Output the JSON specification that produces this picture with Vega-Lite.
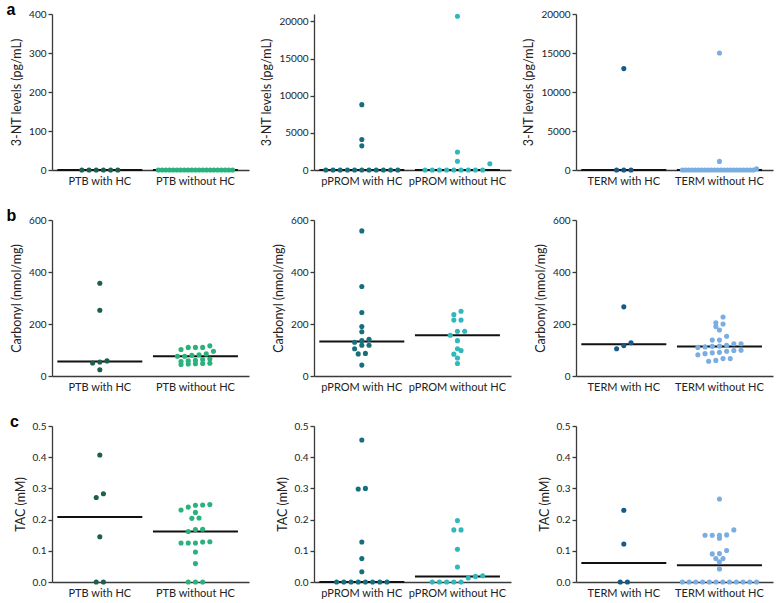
{
"$schema": "https://vega.github.io/schema/vega-lite/v6.json",
"padding": {"left": 6, "top": 2, "right": 2, "bottom": 2},
"datasets": {
"nt": [
{"g":"PTB with HC","v":0},{"g":"PTB with HC","v":0},{"g":"PTB with HC","v":0},{"g":"PTB with HC","v":0},{"g":"PTB with HC","v":0},{"g":"PTB with HC","v":0},
{"g":"PTB without HC","v":0},{"g":"PTB without HC","v":0},{"g":"PTB without HC","v":0},{"g":"PTB without HC","v":0},{"g":"PTB without HC","v":0},{"g":"PTB without HC","v":0},{"g":"PTB without HC","v":0},{"g":"PTB without HC","v":0},{"g":"PTB without HC","v":0},{"g":"PTB without HC","v":0},{"g":"PTB without HC","v":0},{"g":"PTB without HC","v":0},{"g":"PTB without HC","v":0},{"g":"PTB without HC","v":0},{"g":"PTB without HC","v":0},{"g":"PTB without HC","v":0},{"g":"PTB without HC","v":0},{"g":"PTB without HC","v":0},{"g":"PTB without HC","v":0},{"g":"PTB without HC","v":0},{"g":"PTB without HC","v":0},
{"g":"pPROM with HC","v":8800},{"g":"pPROM with HC","v":4100},{"g":"pPROM with HC","v":3250},{"g":"pPROM with HC","v":0},{"g":"pPROM with HC","v":0},{"g":"pPROM with HC","v":0},{"g":"pPROM with HC","v":0},{"g":"pPROM with HC","v":0},{"g":"pPROM with HC","v":0},{"g":"pPROM with HC","v":0},{"g":"pPROM with HC","v":0},{"g":"pPROM with HC","v":0},{"g":"pPROM with HC","v":0},{"g":"pPROM with HC","v":0},
{"g":"pPROM without HC","v":20700},{"g":"pPROM without HC","v":2420},{"g":"pPROM without HC","v":1170},{"g":"pPROM without HC","v":850},{"g":"pPROM without HC","v":0},{"g":"pPROM without HC","v":0},{"g":"pPROM without HC","v":0},{"g":"pPROM without HC","v":0},{"g":"pPROM without HC","v":0},{"g":"pPROM without HC","v":0},{"g":"pPROM without HC","v":0},{"g":"pPROM without HC","v":0},{"g":"pPROM without HC","v":0},
{"g":"TERM with HC","v":13000},{"g":"TERM with HC","v":0},{"g":"TERM with HC","v":0},{"g":"TERM with HC","v":0},
{"g":"TERM without HC","v":15000},{"g":"TERM without HC","v":1100},{"g":"TERM without HC","v":150},{"g":"TERM without HC","v":0},{"g":"TERM without HC","v":0},{"g":"TERM without HC","v":0},{"g":"TERM without HC","v":0},{"g":"TERM without HC","v":0},{"g":"TERM without HC","v":0},{"g":"TERM without HC","v":0},{"g":"TERM without HC","v":0},{"g":"TERM without HC","v":0},{"g":"TERM without HC","v":0},{"g":"TERM without HC","v":0},{"g":"TERM without HC","v":0},{"g":"TERM without HC","v":0},{"g":"TERM without HC","v":0},{"g":"TERM without HC","v":0},{"g":"TERM without HC","v":0},{"g":"TERM without HC","v":0},{"g":"TERM without HC","v":0},{"g":"TERM without HC","v":0},{"g":"TERM without HC","v":0},{"g":"TERM without HC","v":0},{"g":"TERM without HC","v":0},{"g":"TERM without HC","v":0}
],
"carb": [
{"g":"PTB with HC","v":357},{"g":"PTB with HC","v":253},{"g":"PTB with HC","v":58},{"g":"PTB with HC","v":54},{"g":"PTB with HC","v":50},{"g":"PTB with HC","v":24},
{"g":"PTB without HC","v":116},{"g":"PTB without HC","v":110},{"g":"PTB without HC","v":110},{"g":"PTB without HC","v":110},{"g":"PTB without HC","v":102},{"g":"PTB without HC","v":95},{"g":"PTB without HC","v":85},{"g":"PTB without HC","v":82},{"g":"PTB without HC","v":80},{"g":"PTB without HC","v":76},{"g":"PTB without HC","v":76},{"g":"PTB without HC","v":65},{"g":"PTB without HC","v":63},{"g":"PTB without HC","v":60},{"g":"PTB without HC","v":58},{"g":"PTB without HC","v":56},{"g":"PTB without HC","v":49},{"g":"PTB without HC","v":48},{"g":"PTB without HC","v":47},{"g":"PTB without HC","v":46},{"g":"PTB without HC","v":44},
{"g":"pPROM with HC","v":558},{"g":"pPROM with HC","v":344},{"g":"pPROM with HC","v":244},{"g":"pPROM with HC","v":190},{"g":"pPROM with HC","v":170},{"g":"pPROM with HC","v":141},{"g":"pPROM with HC","v":136},{"g":"pPROM with HC","v":130},{"g":"pPROM with HC","v":118},{"g":"pPROM with HC","v":118},{"g":"pPROM with HC","v":105},{"g":"pPROM with HC","v":87},{"g":"pPROM with HC","v":85},{"g":"pPROM with HC","v":42},
{"g":"pPROM without HC","v":249},{"g":"pPROM without HC","v":236},{"g":"pPROM without HC","v":215},{"g":"pPROM without HC","v":215},{"g":"pPROM without HC","v":172},{"g":"pPROM without HC","v":172},{"g":"pPROM without HC","v":157},{"g":"pPROM without HC","v":136},{"g":"pPROM without HC","v":105},{"g":"pPROM without HC","v":98},{"g":"pPROM without HC","v":84},{"g":"pPROM without HC","v":69},{"g":"pPROM without HC","v":48},
{"g":"TERM with HC","v":266},{"g":"TERM with HC","v":128},{"g":"TERM with HC","v":117},{"g":"TERM with HC","v":105},
{"g":"TERM without HC","v":227},{"g":"TERM without HC","v":205},{"g":"TERM without HC","v":200},{"g":"TERM without HC","v":190},{"g":"TERM without HC","v":177},{"g":"TERM without HC","v":153},{"g":"TERM without HC","v":138},{"g":"TERM without HC","v":138},{"g":"TERM without HC","v":124},{"g":"TERM without HC","v":124},{"g":"TERM without HC","v":118},{"g":"TERM without HC","v":115},{"g":"TERM without HC","v":114},{"g":"TERM without HC","v":112},{"g":"TERM without HC","v":110},{"g":"TERM without HC","v":99},{"g":"TERM without HC","v":98},{"g":"TERM without HC","v":95},{"g":"TERM without HC","v":91},{"g":"TERM without HC","v":89},{"g":"TERM without HC","v":86},{"g":"TERM without HC","v":82},{"g":"TERM without HC","v":67},{"g":"TERM without HC","v":67},{"g":"TERM without HC","v":60},{"g":"TERM without HC","v":57}
],
"tac": [
{"g":"PTB with HC","v":0.407},{"g":"PTB with HC","v":0.283},{"g":"PTB with HC","v":0.271},{"g":"PTB with HC","v":0.145},{"g":"PTB with HC","v":0},{"g":"PTB with HC","v":0},
{"g":"PTB without HC","v":0.248},{"g":"PTB without HC","v":0.247},{"g":"PTB without HC","v":0.246},{"g":"PTB without HC","v":0.240},{"g":"PTB without HC","v":0.231},{"g":"PTB without HC","v":0.223},{"g":"PTB without HC","v":0.205},{"g":"PTB without HC","v":0.204},{"g":"PTB without HC","v":0.169},{"g":"PTB without HC","v":0.168},{"g":"PTB without HC","v":0.162},{"g":"PTB without HC","v":0.129},{"g":"PTB without HC","v":0.128},{"g":"PTB without HC","v":0.125},{"g":"PTB without HC","v":0.125},{"g":"PTB without HC","v":0.125},{"g":"PTB without HC","v":0.096},{"g":"PTB without HC","v":0.059},{"g":"PTB without HC","v":0},{"g":"PTB without HC","v":0},{"g":"PTB without HC","v":0},
{"g":"pPROM with HC","v":0.455},{"g":"pPROM with HC","v":0.300},{"g":"pPROM with HC","v":0.298},{"g":"pPROM with HC","v":0.128},{"g":"pPROM with HC","v":0.075},{"g":"pPROM with HC","v":0.033},{"g":"pPROM with HC","v":0},{"g":"pPROM with HC","v":0},{"g":"pPROM with HC","v":0},{"g":"pPROM with HC","v":0},{"g":"pPROM with HC","v":0},{"g":"pPROM with HC","v":0},{"g":"pPROM with HC","v":0},{"g":"pPROM with HC","v":0},
{"g":"pPROM without HC","v":0.197},{"g":"pPROM without HC","v":0.167},{"g":"pPROM without HC","v":0.167},{"g":"pPROM without HC","v":0.105},{"g":"pPROM without HC","v":0.048},{"g":"pPROM without HC","v":0.020},{"g":"pPROM without HC","v":0.018},{"g":"pPROM without HC","v":0.013},{"g":"pPROM without HC","v":0},{"g":"pPROM without HC","v":0},{"g":"pPROM without HC","v":0},{"g":"pPROM without HC","v":0},{"g":"pPROM without HC","v":0},
{"g":"TERM with HC","v":0.230},{"g":"TERM with HC","v":0.122},{"g":"TERM with HC","v":0},{"g":"TERM with HC","v":0},
{"g":"TERM without HC","v":0.266},{"g":"TERM without HC","v":0.167},{"g":"TERM without HC","v":0.151},{"g":"TERM without HC","v":0.150},{"g":"TERM without HC","v":0.150},{"g":"TERM without HC","v":0.150},{"g":"TERM without HC","v":0.140},{"g":"TERM without HC","v":0.101},{"g":"TERM without HC","v":0.091},{"g":"TERM without HC","v":0.090},{"g":"TERM without HC","v":0.075},{"g":"TERM without HC","v":0.075},{"g":"TERM without HC","v":0.065},{"g":"TERM without HC","v":0.042},{"g":"TERM without HC","v":0},{"g":"TERM without HC","v":0},{"g":"TERM without HC","v":0},{"g":"TERM without HC","v":0},{"g":"TERM without HC","v":0},{"g":"TERM without HC","v":0},{"g":"TERM without HC","v":0},{"g":"TERM without HC","v":0},{"g":"TERM without HC","v":0},{"g":"TERM without HC","v":0},{"g":"TERM without HC","v":0},{"g":"TERM without HC","v":0}
]
},
"columns": 3,
"bounds": "flush",
"spacing": {"row": 50, "column": 65},
"resolve": {"scale": {"x": "independent", "y": "independent", "xOffset": "independent"}},
"concat": [
{
"width": 197, "height": 156,
"title": {"text": "a", "anchor": "start", "frame": "bounds", "fontSize": 16, "fontWeight": "bold", "font": "Liberation Sans", "color": "#000", "offset": -9, "dx": -4},
"data": {"name": "nt"},
"transform": [
{"filter": {"field": "g", "oneOf": ["PTB with HC", "PTB without HC"]}},
{"bin": {"step": 20, "anchor": -10, "nice": false}, "field": "v", "as": "vb"},
{"joinaggregate": [{"op": "count", "as": "n"}], "groupby": ["g", "vb"]},
{"window": [{"op": "row_number", "as": "r"}], "groupby": ["g", "vb"], "sort": [{"field": "v", "order": "ascending"}]},
{"calculate": "(datum.r - (datum.n + 1) / 2) * min(1, 10.3 / max(1, datum.n - 1))", "as": "off"}
],
"layer": [
{"mark": {"type": "tick", "color": "#111", "thickness": 2, "size": 85},
"encoding": {
"x": {"field": "g", "type": "nominal", "title": null, "scale": {"type": "band", "domain": ["PTB with HC", "PTB without HC"], "paddingInner": 0, "paddingOuter": 0.03, "align": 0}},
"y": {"aggregate": "median", "field": "v", "type": "quantitative", "title": "3-NT levels (pg/mL)", "scale": {"domain": [0, 400], "nice": false}, "axis": {"values": [0, 100, 200, 300, 400], "format": "d"}}}},
{"mark": {"type": "circle", "size": 26, "opacity": 1},
"encoding": {
"x": {"field": "g", "type": "nominal", "title": null, "scale": {"type": "band", "domain": ["PTB with HC", "PTB without HC"], "paddingInner": 0, "paddingOuter": 0.03, "align": 0}},
"xOffset": {"field": "off", "type": "quantitative", "scale": {"domain": [-6.64, 6.64], "nice": false, "zero": false}},
"y": {"field": "v", "type": "quantitative", "title": "3-NT levels (pg/mL)", "scale": {"domain": [0, 400], "nice": false}, "axis": {"values": [0, 100, 200, 300, 400], "format": "d"}},
"color": {"field": "g", "type": "nominal", "legend": null, "scale": {"domain": ["PTB with HC", "PTB without HC", "pPROM with HC", "pPROM without HC", "TERM with HC", "TERM without HC"], "range": ["#1c5f50", "#2ab27e", "#176f7e", "#30b8bc", "#175987", "#7aade2"]}}}}
]
},
{
"width": 197, "height": 156,
"data": {"name": "nt"},
"transform": [
{"filter": {"field": "g", "oneOf": ["pPROM with HC", "pPROM without HC"]}},
{"bin": {"step": 1000, "anchor": -100, "nice": false}, "field": "v", "as": "vb"},
{"joinaggregate": [{"op": "count", "as": "n"}], "groupby": ["g", "vb"]},
{"window": [{"op": "row_number", "as": "r"}], "groupby": ["g", "vb"], "sort": [{"field": "v", "order": "ascending"}]},
{"calculate": "(datum.r - (datum.n + 1) / 2) * min(1, 10.3 / max(1, datum.n - 1))", "as": "off"}
],
"layer": [
{"mark": {"type": "tick", "color": "#111", "thickness": 2, "size": 85},
"encoding": {
"x": {"field": "g", "type": "nominal", "title": null, "scale": {"type": "band", "domain": ["pPROM with HC", "pPROM without HC"], "paddingInner": 0, "paddingOuter": 0.03, "align": 0}},
"y": {"aggregate": "median", "field": "v", "type": "quantitative", "title": "3-NT levels (pg/mL)", "scale": {"domain": [0, 21000], "nice": false}, "axis": {"values": [0, 5000, 10000, 15000, 20000], "format": "d"}}}},
{"mark": {"type": "circle", "size": 26, "opacity": 1},
"encoding": {
"x": {"field": "g", "type": "nominal", "title": null, "scale": {"type": "band", "domain": ["pPROM with HC", "pPROM without HC"], "paddingInner": 0, "paddingOuter": 0.03, "align": 0}},
"xOffset": {"field": "off", "type": "quantitative", "scale": {"domain": [-6.64, 6.64], "nice": false, "zero": false}},
"y": {"field": "v", "type": "quantitative", "title": "3-NT levels (pg/mL)", "scale": {"domain": [0, 21000], "nice": false}, "axis": {"values": [0, 5000, 10000, 15000, 20000], "format": "d"}},
"color": {"field": "g", "type": "nominal", "legend": null, "scale": {"domain": ["PTB with HC", "PTB without HC", "pPROM with HC", "pPROM without HC", "TERM with HC", "TERM without HC"], "range": ["#1c5f50", "#2ab27e", "#176f7e", "#30b8bc", "#175987", "#7aade2"]}}}}
]
},
{
"width": 197, "height": 156,
"data": {"name": "nt"},
"transform": [
{"filter": {"field": "g", "oneOf": ["TERM with HC", "TERM without HC"]}},
{"bin": {"step": 1000, "anchor": -100, "nice": false}, "field": "v", "as": "vb"},
{"joinaggregate": [{"op": "count", "as": "n"}], "groupby": ["g", "vb"]},
{"window": [{"op": "row_number", "as": "r"}], "groupby": ["g", "vb"], "sort": [{"field": "v", "order": "ascending"}]},
{"calculate": "(datum.r - (datum.n + 1) / 2) * min(1, 10.3 / max(1, datum.n - 1))", "as": "off"}
],
"layer": [
{"mark": {"type": "tick", "color": "#111", "thickness": 2, "size": 85},
"encoding": {
"x": {"field": "g", "type": "nominal", "title": null, "scale": {"type": "band", "domain": ["TERM with HC", "TERM without HC"], "paddingInner": 0, "paddingOuter": 0.03, "align": 0}},
"y": {"aggregate": "median", "field": "v", "type": "quantitative", "title": "3-NT levels (pg/mL)", "scale": {"domain": [0, 20000], "nice": false}, "axis": {"values": [0, 5000, 10000, 15000, 20000], "format": "d"}}}},
{"mark": {"type": "circle", "size": 26, "opacity": 1},
"encoding": {
"x": {"field": "g", "type": "nominal", "title": null, "scale": {"type": "band", "domain": ["TERM with HC", "TERM without HC"], "paddingInner": 0, "paddingOuter": 0.03, "align": 0}},
"xOffset": {"field": "off", "type": "quantitative", "scale": {"domain": [-6.64, 6.64], "nice": false, "zero": false}},
"y": {"field": "v", "type": "quantitative", "title": "3-NT levels (pg/mL)", "scale": {"domain": [0, 20000], "nice": false}, "axis": {"values": [0, 5000, 10000, 15000, 20000], "format": "d"}},
"color": {"field": "g", "type": "nominal", "legend": null, "scale": {"domain": ["PTB with HC", "PTB without HC", "pPROM with HC", "pPROM without HC", "TERM with HC", "TERM without HC"], "range": ["#1c5f50", "#2ab27e", "#176f7e", "#30b8bc", "#175987", "#7aade2"]}}}}
]
},
{
"width": 197, "height": 156,
"title": {"text": "b", "anchor": "start", "frame": "bounds", "fontSize": 16, "fontWeight": "bold", "font": "Liberation Sans", "color": "#000", "offset": -9, "dx": -4},
"data": {"name": "carb"},
"transform": [
{"filter": {"field": "g", "oneOf": ["PTB with HC", "PTB without HC"]}},
{"bin": {"step": 25, "anchor": 0, "nice": false}, "field": "v", "as": "vb"},
{"joinaggregate": [{"op": "count", "as": "n"}], "groupby": ["g", "vb"]},
{"window": [{"op": "row_number", "as": "r"}], "groupby": ["g", "vb"], "sort": [{"field": "v", "order": "ascending"}]},
{"calculate": "(datum.r - (datum.n + 1) / 2) * min(1, 10.3 / max(1, datum.n - 1))", "as": "off"}
],
"layer": [
{"mark": {"type": "tick", "color": "#111", "thickness": 2, "size": 85},
"encoding": {
"x": {"field": "g", "type": "nominal", "title": null, "scale": {"type": "band", "domain": ["PTB with HC", "PTB without HC"], "paddingInner": 0, "paddingOuter": 0.03, "align": 0}},
"y": {"aggregate": "median", "field": "v", "type": "quantitative", "title": "Carbonyl (nmol/mg)", "scale": {"domain": [0, 600], "nice": false}, "axis": {"values": [0, 200, 400, 600], "format": "d"}}}},
{"mark": {"type": "circle", "size": 26, "opacity": 1},
"encoding": {
"x": {"field": "g", "type": "nominal", "title": null, "scale": {"type": "band", "domain": ["PTB with HC", "PTB without HC"], "paddingInner": 0, "paddingOuter": 0.03, "align": 0}},
"xOffset": {"field": "off", "type": "quantitative", "scale": {"domain": [-6.64, 6.64], "nice": false, "zero": false}},
"y": {"field": "v", "type": "quantitative", "title": "Carbonyl (nmol/mg)", "scale": {"domain": [0, 600], "nice": false}, "axis": {"values": [0, 200, 400, 600], "format": "d"}},
"color": {"field": "g", "type": "nominal", "legend": null, "scale": {"domain": ["PTB with HC", "PTB without HC", "pPROM with HC", "pPROM without HC", "TERM with HC", "TERM without HC"], "range": ["#1c5f50", "#2ab27e", "#176f7e", "#30b8bc", "#175987", "#7aade2"]}}}}
]
},
{
"width": 197, "height": 156,
"data": {"name": "carb"},
"transform": [
{"filter": {"field": "g", "oneOf": ["pPROM with HC", "pPROM without HC"]}},
{"bin": {"step": 25, "anchor": 0, "nice": false}, "field": "v", "as": "vb"},
{"joinaggregate": [{"op": "count", "as": "n"}], "groupby": ["g", "vb"]},
{"window": [{"op": "row_number", "as": "r"}], "groupby": ["g", "vb"], "sort": [{"field": "v", "order": "ascending"}]},
{"calculate": "(datum.r - (datum.n + 1) / 2) * min(1, 10.3 / max(1, datum.n - 1))", "as": "off"}
],
"layer": [
{"mark": {"type": "tick", "color": "#111", "thickness": 2, "size": 85},
"encoding": {
"x": {"field": "g", "type": "nominal", "title": null, "scale": {"type": "band", "domain": ["pPROM with HC", "pPROM without HC"], "paddingInner": 0, "paddingOuter": 0.03, "align": 0}},
"y": {"aggregate": "median", "field": "v", "type": "quantitative", "title": "Carbonyl (nmol/mg)", "scale": {"domain": [0, 600], "nice": false}, "axis": {"values": [0, 200, 400, 600], "format": "d"}}}},
{"mark": {"type": "circle", "size": 26, "opacity": 1},
"encoding": {
"x": {"field": "g", "type": "nominal", "title": null, "scale": {"type": "band", "domain": ["pPROM with HC", "pPROM without HC"], "paddingInner": 0, "paddingOuter": 0.03, "align": 0}},
"xOffset": {"field": "off", "type": "quantitative", "scale": {"domain": [-6.64, 6.64], "nice": false, "zero": false}},
"y": {"field": "v", "type": "quantitative", "title": "Carbonyl (nmol/mg)", "scale": {"domain": [0, 600], "nice": false}, "axis": {"values": [0, 200, 400, 600], "format": "d"}},
"color": {"field": "g", "type": "nominal", "legend": null, "scale": {"domain": ["PTB with HC", "PTB without HC", "pPROM with HC", "pPROM without HC", "TERM with HC", "TERM without HC"], "range": ["#1c5f50", "#2ab27e", "#176f7e", "#30b8bc", "#175987", "#7aade2"]}}}}
]
},
{
"width": 197, "height": 156,
"data": {"name": "carb"},
"transform": [
{"filter": {"field": "g", "oneOf": ["TERM with HC", "TERM without HC"]}},
{"bin": {"step": 25, "anchor": 5, "nice": false}, "field": "v", "as": "vb"},
{"joinaggregate": [{"op": "count", "as": "n"}], "groupby": ["g", "vb"]},
{"window": [{"op": "row_number", "as": "r"}], "groupby": ["g", "vb"], "sort": [{"field": "v", "order": "ascending"}]},
{"calculate": "(datum.r - (datum.n + 1) / 2) * min(1, 10.3 / max(1, datum.n - 1))", "as": "off"}
],
"layer": [
{"mark": {"type": "tick", "color": "#111", "thickness": 2, "size": 85},
"encoding": {
"x": {"field": "g", "type": "nominal", "title": null, "scale": {"type": "band", "domain": ["TERM with HC", "TERM without HC"], "paddingInner": 0, "paddingOuter": 0.03, "align": 0}},
"y": {"aggregate": "median", "field": "v", "type": "quantitative", "title": "Carbonyl (nmol/mg)", "scale": {"domain": [0, 600], "nice": false}, "axis": {"values": [0, 200, 400, 600], "format": "d"}}}},
{"mark": {"type": "circle", "size": 26, "opacity": 1},
"encoding": {
"x": {"field": "g", "type": "nominal", "title": null, "scale": {"type": "band", "domain": ["TERM with HC", "TERM without HC"], "paddingInner": 0, "paddingOuter": 0.03, "align": 0}},
"xOffset": {"field": "off", "type": "quantitative", "scale": {"domain": [-6.64, 6.64], "nice": false, "zero": false}},
"y": {"field": "v", "type": "quantitative", "title": "Carbonyl (nmol/mg)", "scale": {"domain": [0, 600], "nice": false}, "axis": {"values": [0, 200, 400, 600], "format": "d"}},
"color": {"field": "g", "type": "nominal", "legend": null, "scale": {"domain": ["PTB with HC", "PTB without HC", "pPROM with HC", "pPROM without HC", "TERM with HC", "TERM without HC"], "range": ["#1c5f50", "#2ab27e", "#176f7e", "#30b8bc", "#175987", "#7aade2"]}}}}
]
},
{
"width": 197, "height": 156,
"title": {"text": "c", "anchor": "start", "frame": "bounds", "fontSize": 16, "fontWeight": "bold", "font": "Liberation Sans", "color": "#000", "offset": -9, "dx": -4},
"data": {"name": "tac"},
"transform": [
{"filter": {"field": "g", "oneOf": ["PTB with HC", "PTB without HC"]}},
{"bin": {"step": 0.02, "anchor": 0.01, "nice": false}, "field": "v", "as": "vb"},
{"joinaggregate": [{"op": "count", "as": "n"}], "groupby": ["g", "vb"]},
{"window": [{"op": "row_number", "as": "r"}], "groupby": ["g", "vb"], "sort": [{"field": "v", "order": "ascending"}]},
{"calculate": "(datum.r - (datum.n + 1) / 2) * min(1, 10.3 / max(1, datum.n - 1))", "as": "off"}
],
"layer": [
{"mark": {"type": "tick", "color": "#111", "thickness": 2, "size": 85},
"encoding": {
"x": {"field": "g", "type": "nominal", "title": null, "scale": {"type": "band", "domain": ["PTB with HC", "PTB without HC"], "paddingInner": 0, "paddingOuter": 0.03, "align": 0}},
"y": {"aggregate": "median", "field": "v", "type": "quantitative", "title": "TAC (mM)", "scale": {"domain": [0, 0.5], "nice": false}, "axis": {"values": [0, 0.1, 0.2, 0.3, 0.4, 0.5], "format": ".1f"}}}},
{"mark": {"type": "circle", "size": 26, "opacity": 1},
"encoding": {
"x": {"field": "g", "type": "nominal", "title": null, "scale": {"type": "band", "domain": ["PTB with HC", "PTB without HC"], "paddingInner": 0, "paddingOuter": 0.03, "align": 0}},
"xOffset": {"field": "off", "type": "quantitative", "scale": {"domain": [-6.64, 6.64], "nice": false, "zero": false}},
"y": {"field": "v", "type": "quantitative", "title": "TAC (mM)", "scale": {"domain": [0, 0.5], "nice": false}, "axis": {"values": [0, 0.1, 0.2, 0.3, 0.4, 0.5], "format": ".1f"}},
"color": {"field": "g", "type": "nominal", "legend": null, "scale": {"domain": ["PTB with HC", "PTB without HC", "pPROM with HC", "pPROM without HC", "TERM with HC", "TERM without HC"], "range": ["#1c5f50", "#2ab27e", "#176f7e", "#30b8bc", "#175987", "#7aade2"]}}}}
]
},
{
"width": 197, "height": 156,
"data": {"name": "tac"},
"transform": [
{"filter": {"field": "g", "oneOf": ["pPROM with HC", "pPROM without HC"]}},
{"bin": {"step": 0.03, "anchor": 0.025, "nice": false}, "field": "v", "as": "vb"},
{"joinaggregate": [{"op": "count", "as": "n"}], "groupby": ["g", "vb"]},
{"window": [{"op": "row_number", "as": "r"}], "groupby": ["g", "vb"], "sort": [{"field": "v", "order": "ascending"}]},
{"calculate": "(datum.r - (datum.n + 1) / 2) * min(1, 10.3 / max(1, datum.n - 1))", "as": "off"}
],
"layer": [
{"mark": {"type": "tick", "color": "#111", "thickness": 2, "size": 85},
"encoding": {
"x": {"field": "g", "type": "nominal", "title": null, "scale": {"type": "band", "domain": ["pPROM with HC", "pPROM without HC"], "paddingInner": 0, "paddingOuter": 0.03, "align": 0}},
"y": {"aggregate": "median", "field": "v", "type": "quantitative", "title": "TAC (mM)", "scale": {"domain": [0, 0.5], "nice": false}, "axis": {"values": [0, 0.1, 0.2, 0.3, 0.4, 0.5], "format": ".1f"}}}},
{"mark": {"type": "circle", "size": 26, "opacity": 1},
"encoding": {
"x": {"field": "g", "type": "nominal", "title": null, "scale": {"type": "band", "domain": ["pPROM with HC", "pPROM without HC"], "paddingInner": 0, "paddingOuter": 0.03, "align": 0}},
"xOffset": {"field": "off", "type": "quantitative", "scale": {"domain": [-6.64, 6.64], "nice": false, "zero": false}},
"y": {"field": "v", "type": "quantitative", "title": "TAC (mM)", "scale": {"domain": [0, 0.5], "nice": false}, "axis": {"values": [0, 0.1, 0.2, 0.3, 0.4, 0.5], "format": ".1f"}},
"color": {"field": "g", "type": "nominal", "legend": null, "scale": {"domain": ["PTB with HC", "PTB without HC", "pPROM with HC", "pPROM without HC", "TERM with HC", "TERM without HC"], "range": ["#1c5f50", "#2ab27e", "#176f7e", "#30b8bc", "#175987", "#7aade2"]}}}}
]
},
{
"width": 197, "height": 156,
"data": {"name": "tac"},
"transform": [
{"filter": {"field": "g", "oneOf": ["TERM with HC", "TERM without HC"]}},
{"bin": {"step": 0.02, "anchor": 0.01, "nice": false}, "field": "v", "as": "vb"},
{"joinaggregate": [{"op": "count", "as": "n"}], "groupby": ["g", "vb"]},
{"window": [{"op": "row_number", "as": "r"}], "groupby": ["g", "vb"], "sort": [{"field": "v", "order": "ascending"}]},
{"calculate": "(datum.r - (datum.n + 1) / 2) * min(1, 10.3 / max(1, datum.n - 1))", "as": "off"}
],
"layer": [
{"mark": {"type": "tick", "color": "#111", "thickness": 2, "size": 85},
"encoding": {
"x": {"field": "g", "type": "nominal", "title": null, "scale": {"type": "band", "domain": ["TERM with HC", "TERM without HC"], "paddingInner": 0, "paddingOuter": 0.03, "align": 0}},
"y": {"aggregate": "median", "field": "v", "type": "quantitative", "title": "TAC (mM)", "scale": {"domain": [0, 0.5], "nice": false}, "axis": {"values": [0, 0.1, 0.2, 0.3, 0.4, 0.5], "format": ".1f"}}}},
{"mark": {"type": "circle", "size": 26, "opacity": 1},
"encoding": {
"x": {"field": "g", "type": "nominal", "title": null, "scale": {"type": "band", "domain": ["TERM with HC", "TERM without HC"], "paddingInner": 0, "paddingOuter": 0.03, "align": 0}},
"xOffset": {"field": "off", "type": "quantitative", "scale": {"domain": [-6.64, 6.64], "nice": false, "zero": false}},
"y": {"field": "v", "type": "quantitative", "title": "TAC (mM)", "scale": {"domain": [0, 0.5], "nice": false}, "axis": {"values": [0, 0.1, 0.2, 0.3, 0.4, 0.5], "format": ".1f"}},
"color": {"field": "g", "type": "nominal", "legend": null, "scale": {"domain": ["PTB with HC", "PTB without HC", "pPROM with HC", "pPROM without HC", "TERM with HC", "TERM without HC"], "range": ["#1c5f50", "#2ab27e", "#176f7e", "#30b8bc", "#175987", "#7aade2"]}}}}
]
}
],
"config": {
"view": {"stroke": null},
"font": "Lato",
"axis": {"labelFont": "Lato", "titleFont": "Lato", "labelColor": "#222", "titleColor": "#222", "domainColor": "#3a3a3a", "tickColor": "#3a3a3a", "domainWidth": 1.3, "tickWidth": 1.3, "grid": false, "titleFontWeight": "normal", "labelFontSize": 10, "titleFontSize": 12.5},
"axisX": {"ticks": false, "labelAngle": 0, "labelPadding": 5, "labelFontSize": 11},
"axisY": {"tickSize": 4, "labelPadding": 2, "titlePadding": 5}
}
}
